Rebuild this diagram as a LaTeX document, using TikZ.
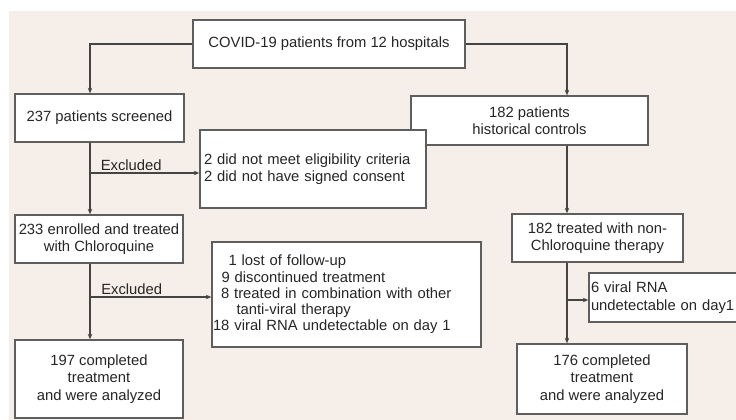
\documentclass[tikz,border=0pt]{standalone}
\usepackage{fontspec}
\setmainfont{Liberation Sans}
\usepackage{xcolor}
\usepackage{tikz}
\usetikzlibrary{arrows.meta, positioning}
\definecolor{bgbeige}{HTML}{F6EEE9}
\definecolor{linegray}{HTML}{444444}
\definecolor{boxgray}{HTML}{5E5E5E}
\definecolor{textgray}{HTML}{262626}

\begin{document}
\begin{tikzpicture}[node distance=120pt, auto, font=\fontsize{14.8}{17.5}\selectfont, text=textgray]
\tikzstyle{stepbox} = [rectangle, draw=boxgray, line width=1.4pt, fill=white, align=center, inner sep=2pt]
\tikzstyle{notebox} = [rectangle, draw=boxgray, line width=1.4pt, fill=white, align=left, inner ysep=2pt]
\tikzstyle{arrow} = [draw=linegray, line width=1.2pt, ->, >={Stealth[length=5.5pt, width=4.5pt]}]

\useasboundingbox (0,0) rectangle (736pt,-420pt);
\fill [bgbeige] (9pt,-11pt) rectangle (736pt,-420pt);

\coordinate (lcol) at (90pt,0);
\coordinate (rcol) at (567pt,0);

\node (covid) [stepbox, minimum width=272pt, minimum height=48pt] at (329pt,-44pt) {COVID-19 patients from 12 hospitals};
\node (screened) [stepbox, minimum width=169pt, minimum height=48pt, below of=covid, xshift=-229.5pt, yshift=46pt] {237 patients screened};
\node (hist) [stepbox, minimum width=237pt, minimum height=49pt, below of=covid, xshift=200.5pt, yshift=43.5pt] {182 patients\\historical controls};
\node (excl1) [notebox, text width=218pt, inner xsep=4pt, minimum height=78pt, right of=screened, xshift=93.5pt, yshift=-51pt] {2 did not meet eligibility criteria\\2 did not have signed consent};
\node (enrolled) [stepbox, minimum width=168pt, minimum height=48pt, below of=screened, xshift=-0.5pt, yshift=-1pt] {233 enrolled and treated\\with Chloroquine};
\node (treated) [stepbox, minimum width=171pt, minimum height=48pt, below of=hist, xshift=68pt, yshift=2.5pt] {182 treated with non-\\Chloroquine therapy};
\node (excl2) [notebox, text width=267pt, inner xsep=1pt, minimum height=105pt, right of=enrolled, xshift=127.5pt, yshift=-55.5pt, font=\fontsize{14.8}{16.3}\selectfont] {\hspace*{15.5pt}1 lost of follow-up\\\hspace*{8.5pt}9 discontinued treatment\\\hspace*{8pt}8 treated in combination with other\\\hspace*{23.5pt}tanti-viral therapy\\18 viral RNA undetectable on day 1};
\node (viral) [notebox, text width=157pt, inner xsep=2pt, minimum height=49pt, right of=treated, xshift=-48pt, yshift=-59.5pt] {6 viral RNA\\undetectable on day1};
\node (done1) [stepbox, minimum width=168pt, minimum height=78pt, below of=enrolled, yshift=-20pt] {197 completed\\treatment\\and were analyzed};
\node (done2) [stepbox, minimum width=170pt, minimum height=70pt, below of=treated, xshift=4.5pt, yshift=-21pt] {176 completed\\treatment\\and were analyzed};

\coordinate (fork1) at (90pt,-173pt);
\coordinate (fork2) at (90pt,-297pt);
\coordinate (fork3) at (567pt,-300pt);

\draw [arrow] (covid.west) -| (screened.north -| lcol);
\draw [arrow] (covid.east) -| (hist.north -| rcol);
\draw [arrow] (screened.south -| lcol) -- (enrolled.north -| lcol);
\draw [arrow] (fork1) -- node[above, pos=0.377, inner sep=2pt] {Excluded} (fork1 -| excl1.west);
\draw [arrow] (enrolled.south -| lcol) -- (done1.north -| lcol);
\draw [arrow] (fork2) -- node[above, pos=0.344, inner sep=2pt] {Excluded} (fork2 -| excl2.west);
\draw [arrow] (hist.south -| rcol) -- (treated.north -| rcol);
\draw [arrow] (treated.south -| rcol) -- (done2.north -| rcol);
\draw [arrow] (fork3) -- (fork3 -| viral.west);
\end{tikzpicture}
\end{document}
